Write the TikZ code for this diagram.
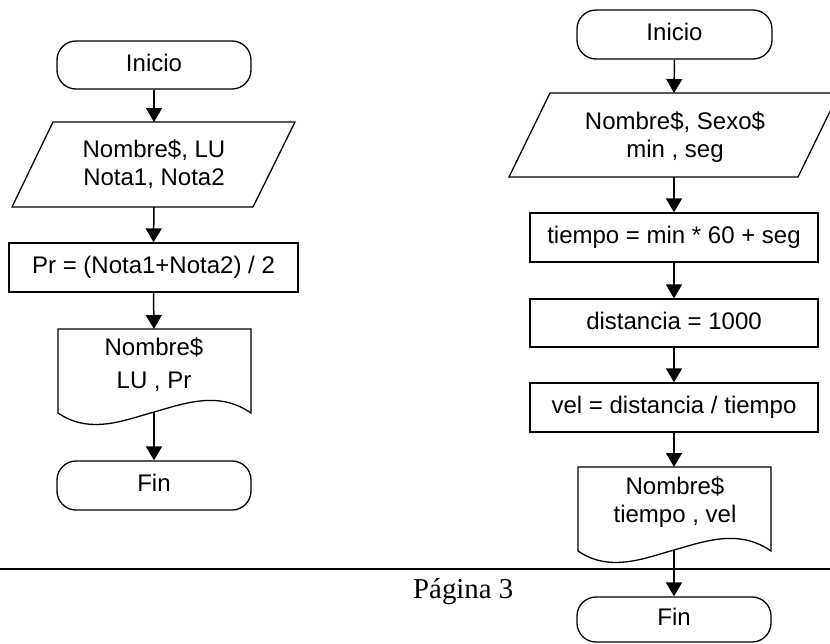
\documentclass[tikz,border=0pt]{standalone}
\usepackage{fontspec}
\usetikzlibrary{arrows.meta}
\newfontfamily\fcfont{Liberation Sans}
\newfontfamily\pgfont{Liberation Serif}
\begin{document}
\begin{tikzpicture}[x=1pt,y=-1pt,
  shapeline/.style={draw=black,line width=1.3pt},
  term/.style={shapeline,rounded corners=19pt,minimum width=194pt,inner sep=0pt,font=\fcfont\fontsize{24}{28}\selectfont,text height=17pt,text depth=5pt},
  proc/.style={shapeline,rectangle,inner sep=0pt,font=\fcfont\fontsize{24}{28}\selectfont,text height=17pt,text depth=5pt},
  txt/.style={inner sep=0pt,align=center,font=\fcfont\fontsize{24}{28}\selectfont},
  flow/.style={line width=1.5pt,-{Triangle[width=16pt,length=14pt]}},
  docshape/.pic={\draw[shapeline] (0,0) -- (193,0) -- (193,84) .. controls (160,61) and (125,75) .. (96,83) .. controls (67,91) and (32,106) .. (0,84) -- cycle;}
]
\useasboundingbox (0,0) rectangle (830,643);

% ---------- left flowchart ----------
\node[term,minimum height=48pt] (i1) at (154,65) {Inicio};
\draw[shapeline] (53,122) -- (295,122) -- (253,207) -- (12,207) -- cycle;
\node[txt] (p1) at (154,164) {Nombre\$, LU\\Nota1, Nota2};
\coordinate (p1top) at (154,122);
\coordinate (p1bot) at (154,207);
\node[proc,minimum width=289pt,minimum height=49pt] (b1) at (153.5,267.5) {Pr = (Nota1+Nota2) / 2};
\pic at (58,329) {docshape};
\node[txt,font=\fcfont\fontsize{24}{33}\selectfont] (d1) at (154,364.5) {Nombre\$\\LU , Pr};
\coordinate (d1top) at (154,329);
\coordinate (d1bot) at (154,412);
\node[term,minimum height=49pt] (f1) at (154,485.5) {Fin};

\draw[flow] (i1.south) -- (p1top);
\draw[flow] (p1bot) -- (b1.north);
\draw[flow] (b1.south) -- (d1top);
\draw[flow] (d1bot) -- (f1.north);

% ---------- right flowchart ----------
\node[term,minimum height=49pt,minimum width=195pt] (i2) at (674.5,34.5) {Inicio};
\draw[shapeline] (550,93) -- (839,93) -- (798,177) -- (509,177) -- cycle;
\node[txt] (p2) at (675,137) {Nombre\$, Sexo\$\\min , seg};
\coordinate (p2top) at (674,93);
\coordinate (p2bot) at (674,177);
\node[proc,minimum width=288pt,minimum height=49pt] (b2) at (674,237.5) {tiempo = min * 60 + seg};
\node[proc,minimum width=288pt,minimum height=48pt] (b3) at (674,323) {distancia = 1000};
\node[proc,minimum width=288pt,minimum height=49pt] (b4) at (674,407.5) {vel = distancia / tiempo};
\pic at (578,467) {docshape};
\node[txt] (d2) at (675,502.5) {Nombre\$\\tiempo , vel};
\coordinate (d2top) at (674,467);
\coordinate (d2bot) at (674,550);
\node[term,minimum height=45pt] (f2) at (674,619.5) {Fin};

\draw[flow] (i2.south) -- (p2top);
\draw[flow] (p2bot) -- (b2.north);
\draw[flow] (b2.south) -- (b3.north);
\draw[flow] (b3.south) -- (b4.north);
\draw[flow] (b4.south) -- (d2top);
\draw[flow] (d2bot) -- (f2.north);

% ---------- page footer ----------
\coordinate (rl) at (0,569);
\coordinate (rr) at (830,569);
\draw[line width=2.6pt] (rl) -- (rr);
\node[anchor=base west,inner sep=0pt,font=\pgfont\fontsize{28.8}{32}\selectfont] (pg) at (413,598) {Página 3};
\end{tikzpicture}
\end{document}
